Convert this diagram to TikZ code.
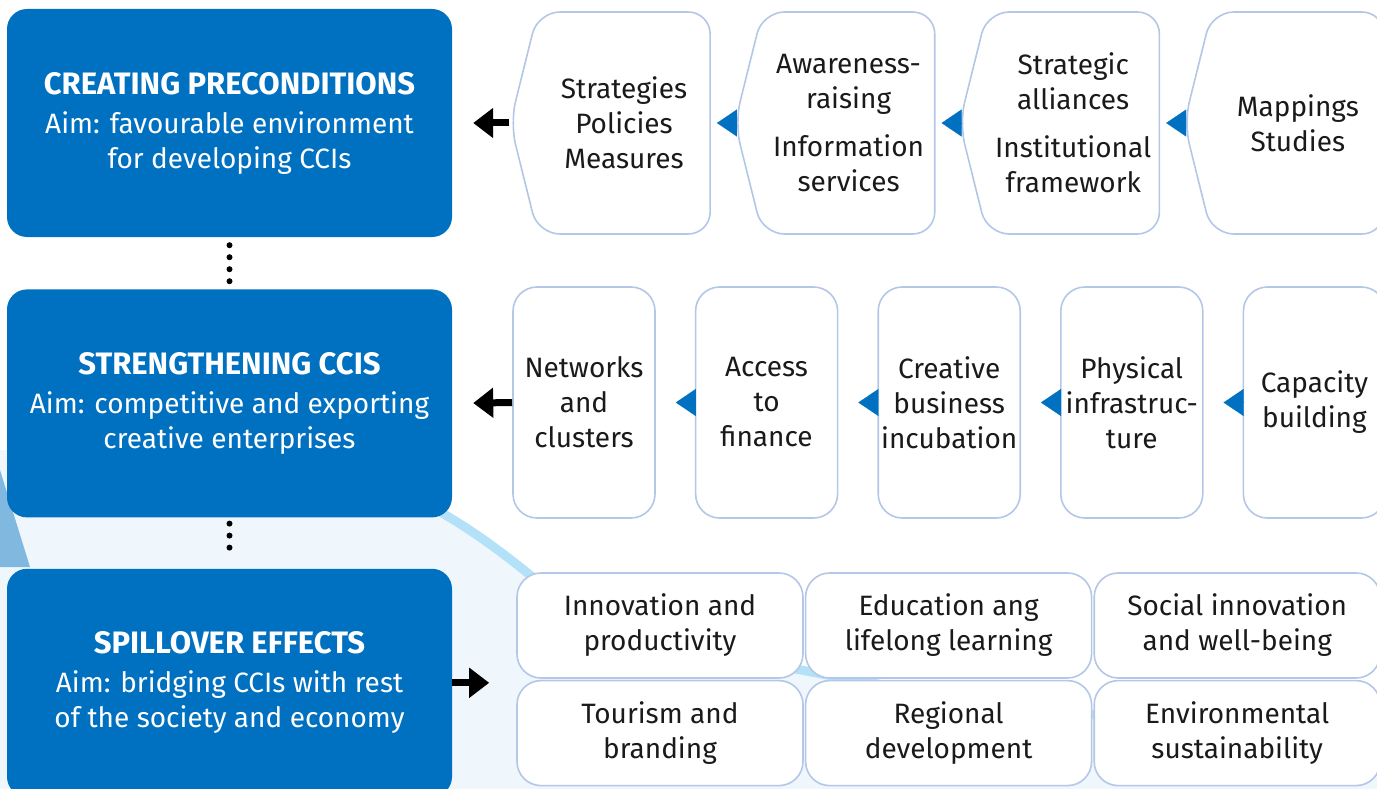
\documentclass[tikz,border=0pt]{standalone}
\usepackage{fontspec}
\setmainfont{Fira Sans}
\usetikzlibrary{positioning,arrows.meta,shapes.symbols}
\definecolor{ccblue}{HTML}{0070C0}
\definecolor{ccedge}{HTML}{B4C7E7}
\definecolor{ccsky}{HTML}{B2E1F8}
\definecolor{ccmist}{HTML}{EFF7FC}
\definecolor{cctext}{HTML}{1A1A1A}
\tikzset{
	ccimap/.style={
		x=1pt, y=1pt,
		node distance=23pt and 23pt,
		every node/.style={font=\fontsize{28}{35}\selectfont, align=center,
			inner sep=0pt, text=cctext},
		aimbox/.style={fill=ccblue, text=white, rounded corners=20pt,
			minimum width=445pt, minimum height=228pt},
		stepchev/.style={shape=signal, signal to=west, signal pointer angle=152,
			draw=ccedge, line width=1.6pt, fill=white, rounded corners=22pt,
			minimum width=200pt, minimum height=222pt},
		stepbox/.style={draw=ccedge, line width=1.6pt, fill=white, rounded corners=24pt,
			minimum width=142pt, minimum height=231pt},
		effectbox/.style={draw=ccedge, line width=1.6pt, fill=white, rounded corners=24pt,
			minimum width=286pt, minimum height=105pt},
		blacktip/.style={line width=7pt, -{Triangle[length=20pt,width=29pt]}},
		bluetip/.style={ccblue, line width=.1pt, -{Triangle[length=20pt,width=27pt]}},
		dotline/.style={line width=6pt, line cap=round, dash pattern=on 0pt off 12pt}
		}
}
\newcommand{\cchead}[1]{{\fontsize{31}{35}\selectfont\bfseries #1}\\[4pt]}

\begin{document}
\begin{tikzpicture}[ccimap]
  \useasboundingbox (0,0) rectangle (1377,-789);
  \clip (0,0) rectangle (1377,-789);
  % background swoosh
  \fill[ccmist] (250,-450) .. controls (380,-470) and (450,-510) .. (530,-575)
        .. controls (620,-640) and (800,-690) .. (1377,-745) -- (1377,-789) -- (0,-789) -- (0,-450) -- cycle;
  \draw[ccsky, line width=9pt] (250,-450) .. controls (380,-470) and (450,-510) .. (530,-575)
        .. controls (620,-640) and (800,-690) .. (1377,-745);
  \fill[ccblue!50] (0,-470) -- (30,-567) -- (0,-567) -- cycle;

  \node[aimbox] (create) at (229.5,-123) {\cchead{CREATING PRECONDITIONS}Aim: favourable environment\\for developing CCIs};
  \node[aimbox, below=52pt of create] (strengthen) {\cchead{STRENGTHENING CCIS}Aim: competitive and exporting\\creative enterprises};
  \node[aimbox, below=51pt of strengthen] (spill) {\cchead{SPILLOVER EFFECTS}Aim: bridging CCIs with rest\\of the society and economy};

  \node[stepchev] (policy) at (624,-123) {Strategies\\Policies\\Measures};
  \node[stepchev, right=of policy] (aware) {Awareness-\\raising\\[13pt]Information\\services};
  \node[stepchev, right=of aware] (alliance) {Strategic\\alliances\\[13pt]Institutional\\framework};
  \node[stepchev, right=of alliance] (mapping) {Mappings\\Studies};

  \node[stepbox] (network) at (584,-402.5) {Networks\\and\\clusters};
  \node[stepbox, right=39pt of network] (finance) {Access\\to\\finance};
  \node[stepbox, right=39pt of finance] (incubate) {Creative\\business\\incubation};
  \node[stepbox, right=39pt of incubate] (infra) {Physical\\infrastruc-\\ture};
  \node[stepbox, right=39pt of infra] (capacity) {Capacity\\building};

  \node[effectbox] (innov) at (660,-625.5) {Innovation and\\productivity};
  \node[effectbox, right=1pt of innov] (educ) {Education ang\\lifelong learning};
  \node[effectbox, right=1pt of educ] (social) {Social innovation\\and well-being};
  \node[effectbox, below=1pt of innov] (tourism) {Tourism and\\branding};
  \node[effectbox, right=1pt of tourism] (region) {Regional\\development};
  \node[effectbox, right=1pt of region] (environ) {Environmental\\sustainability};

  \draw[dotline, shorten <=8pt, shorten >=7pt] (create.south) -- (strengthen.north);
  \draw[dotline, shorten <=6pt, shorten >=10pt] (strengthen.south) -- (spill.north);

  \draw[blacktip, shorten >=21pt] (policy.west) -- (create.east);
  \draw[blacktip, shorten >=21pt] (network.west) -- (strengthen.east);
  \draw[blacktip, shorten >=27pt] (spill.east) -- (spill.east -| innov.west);

  \foreach \a/\b in {aware/policy, alliance/aware, mapping/alliance}
    \draw[bluetip, shorten >=6pt] (\a.west) -- (\b.east);
  \foreach \a/\b in {finance/network, incubate/finance, infra/incubate, capacity/infra}
    \draw[bluetip, shorten >=20pt] (\a.west) -- (\b.east);
\end{tikzpicture}
\end{document}
